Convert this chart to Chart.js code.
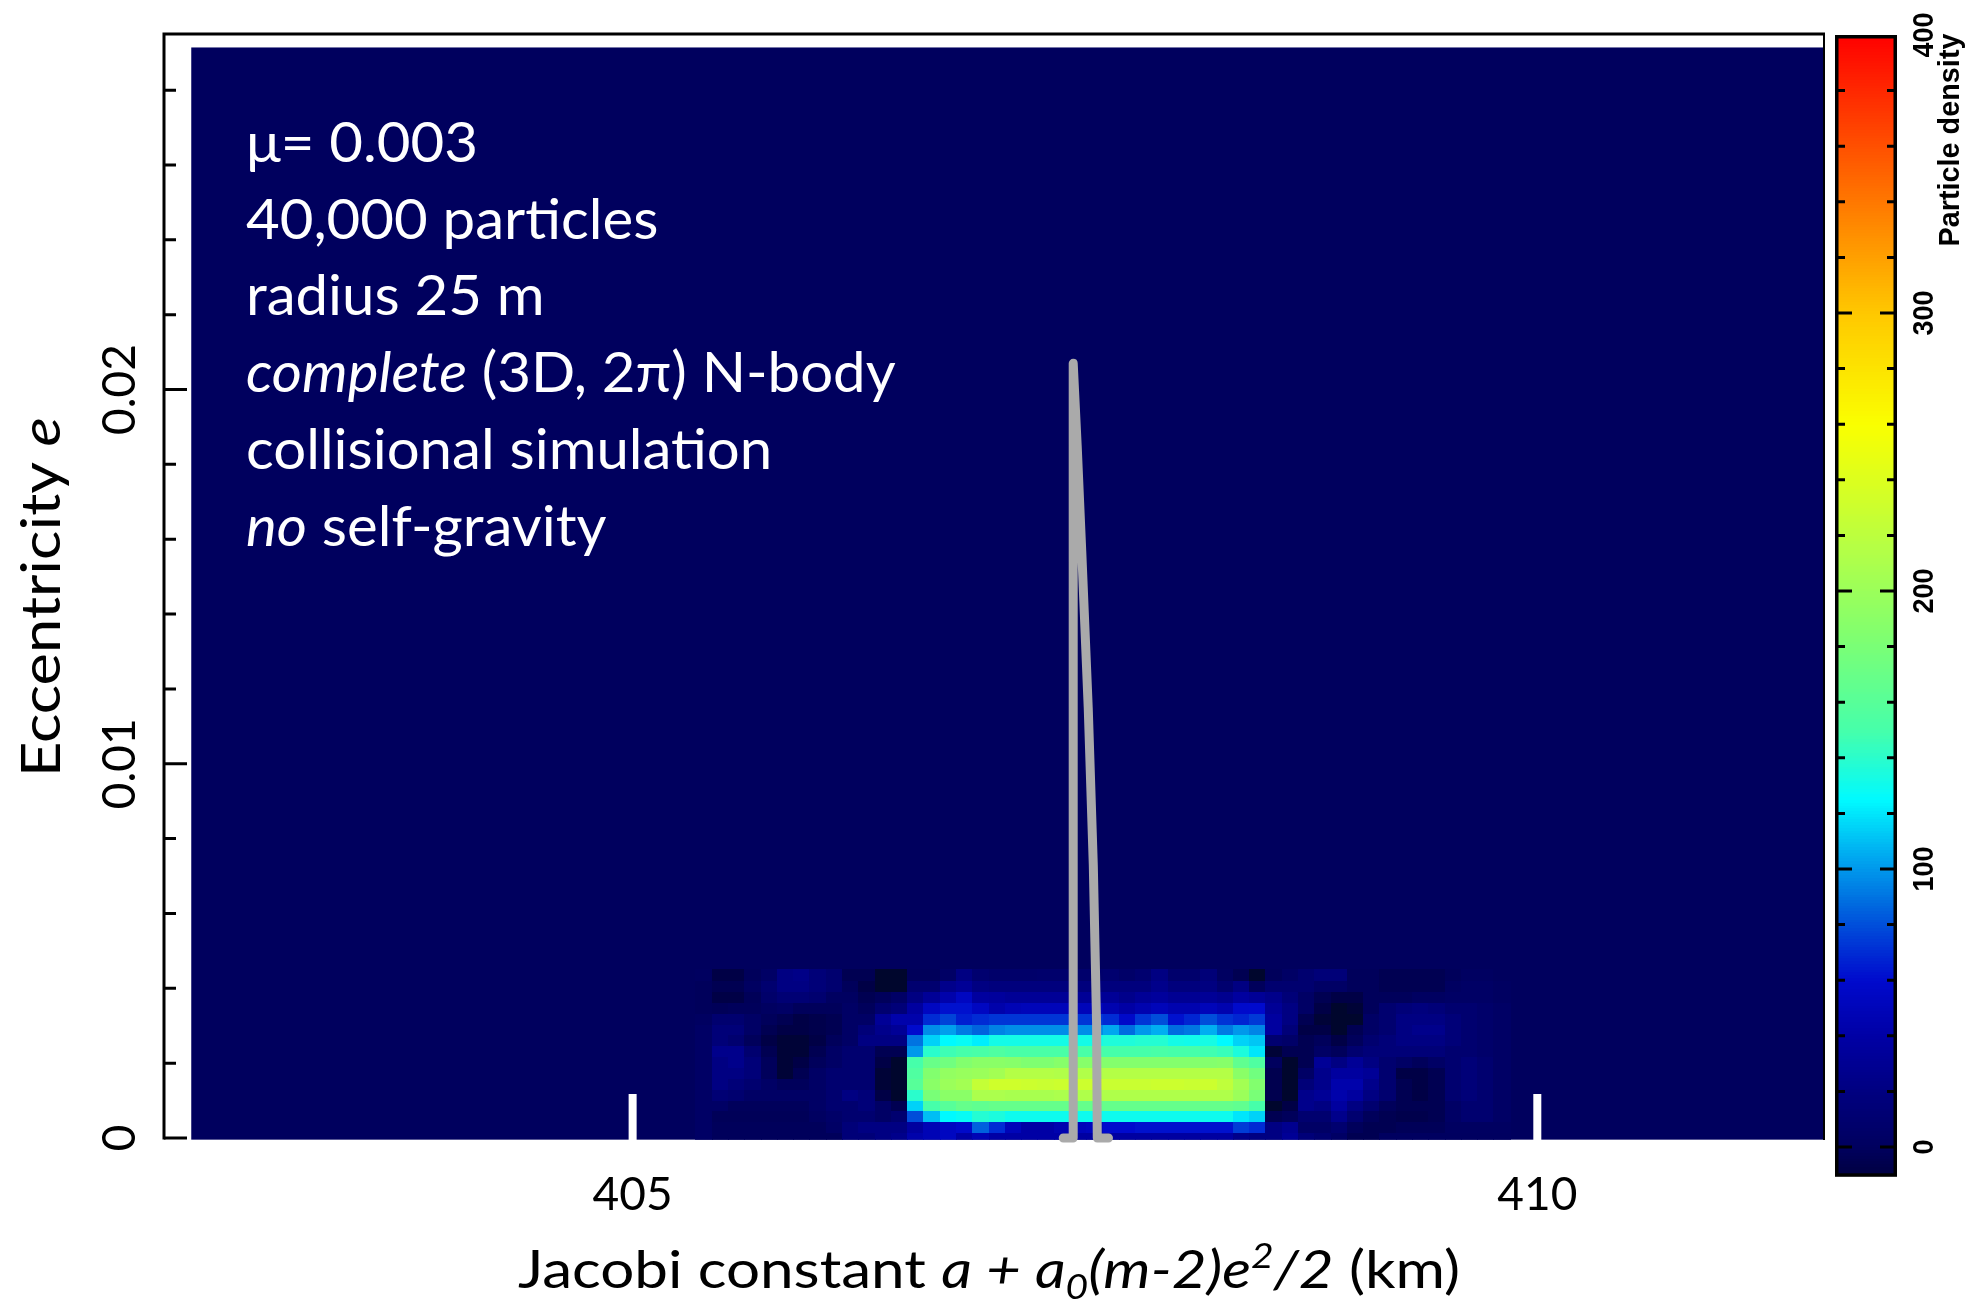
<!DOCTYPE html>
<html>
<head>
<meta charset="utf-8">
<title>Particle density: eccentricity vs Jacobi constant</title>
<script src="https://cdn.jsdelivr.net/npm/chart.js@4.4.1/dist/chart.umd.min.js"></script>
<style>
  html, body { margin: 0; padding: 0; background: #fff; }
  #wrap { width: 1982px; height: 1303px; }
</style>
</head>
<body>
<div id="wrap"><canvas id="myChart" width="1982" height="1303"></canvas></div>
<script>
// ---- histogram grid ----
const binX0 = 402.56;      // left edge of column 0 (km)
const binDX = 0.09;        // column width (km)
const binXEnd = 411.58;    // right edge of the histogram image
const binDE = 0.00029;     // rows centred on k * binDE
const binRows = 101;
const binEMin = -0.00005;  // image is cut just below e = 0
const firstCol = 31;       // the rows below start at column 31

// particle density, columns 31..80, row k is e = k * binDE
const densityRow00 = [4,-1,-1,-1,-1,-1,-1,-1,-1,15, 15,21,26,43,48,54,40,48,40,40, 40,40,40,38,38,38,38,38,38,38, 38,38,38,26,21,21,32,15,10,4, -4,-4,1,1,1,1,1,1,1,1];
const densityRow01 = [4,-1,-1,-1,-1,-1,-1,-1,4,15, 21,21,21,37,48,54,58,85,70,50, 40,40,45,50,52,60,60,62,62,62, 62,62,62,75,70,21,28,4,4,10, -1,-4,-4,-2,-2,-2,2,2,2,2];
const densityRow02 = [4,-2,-2,-2,-2,-2,-2,2,6,10, 10,4,10,80,110,125,128,138,135,130, 130,130,130,130,130,130,130,130,130,130, 130,130,130,120,115,-4,-1,10,10,26, 10,-1,-4,-6,-6,-4,4,10,10,4];
const densityRow03 = [4,4,-1,-1,-1,-1,-1,4,10,10, 15,4,-4,115,150,160,168,165,168,168, 168,168,168,168,168,168,168,168,168,168, 168,168,168,165,150,-12,-8,26,21,37, 21,10,-1,-4,-4,-4,4,10,10,4];
const densityRow04 = [4,13,10,4,4,4,4,4,10,21, 15,-8,-12,140,180,190,190,210,210,208, 208,208,210,212,212,212,212,212,212,212, 212,212,212,200,180,-5,-12,26,32,43, 37,21,10,-4,-8,-4,10,15,10,4];
const densityRow05 = [4,21,15,10,4,-1,-1,4,10,10, 10,-11,-12,160,190,200,205,225,232,232, 230,228,230,230,230,228,228,228,230,230, 228,230,222,205,185,-5,-12,15,26,43, 43,26,10,-4,-8,-4,10,15,10,4];
const densityRow06 = [4,21,21,15,-1,-11,-4,4,10,10, 10,-11,-12,155,185,195,198,200,205,215, 215,215,213,213,213,215,215,215,215,215, 215,215,215,190,175,-5,-12,4,26,37, 37,32,10,-8,-8,-4,10,15,10,4];
const densityRow07 = [4,21,26,15,-1,-11,-8,-1,4,10, 10,-8,-12,150,170,175,185,190,190,188, 183,183,188,188,188,186,186,186,186,186, 186,186,188,165,155,0,-12,-4,32,21, 32,21,10,4,-1,4,10,15,10,4];
const densityRow08 = [4,26,26,10,-4,-11,-11,-4,4,10, 10,-4,-4,100,140,147,150,152,155,152, 152,152,152,152,152,150,150,150,152,150, 150,148,145,135,120,-11,-4,-4,4,-1, 10,15,15,15,15,15,10,10,7,4];
const densityRow09 = [4,15,10,-1,-8,-11,-11,-8,-1,4, 21,21,21,90,115,125,128,122,132,132, 132,132,132,132,132,136,136,138,138,132, 131,133,125,115,112,10,6,-4,-1,-8, -1,10,15,21,21,21,15,10,7,4];
const densityRow10 = [4,15,15,4,-4,-8,-8,-6,-4,4, 15,26,32,60,97,102,92,86,94,97, 97,97,97,97,97,104,88,100,106,88, 91,106,92,100,95,37,15,-8,-8,-12, -4,4,10,21,26,26,15,10,7,4];
const densityRow11 = [2,10,10,4,-1,-4,-8,-6,-4,4, 4,32,43,43,70,77,66,70,73,73, 73,73,73,73,73,70,58,73,80,62, 68,80,72,68,74,37,21,-4,-11,-12, -12,4,10,21,21,21,15,10,7,4];
const densityRow12 = [-1,-2,-1,-1,2,4,-1,-1,-1,4, -1,10,15,37,54,62,62,54,43,48, 50,50,50,50,50,45,40,45,50,45, 45,50,45,59,60,32,21,4,-8,-12, -11,-1,10,15,18,15,10,10,7,4];
const densityRow13 = [-1,-8,-8,-2,7,13,13,10,2,2, -4,-1,4,21,32,43,54,37,35,32, 32,32,32,32,32,32,26,32,35,30, 30,32,28,37,32,26,15,4,-4,-8, -8,-1,-1,-1,2,2,4,4,4,2];
const densityRow14 = [-1,-4,-4,2,10,21,21,15,10,-1, -8,-12,-12,10,10,26,32,21,18,18, 18,18,18,18,18,18,18,18,26,18, 18,20,10,21,-1,10,10,10,4,4, -1,-1,-4,-4,-4,-4,2,4,4,2];
const densityRow15 = [1,-8,-8,-1,4,21,24,15,10,-4, -4,-12,-12,-1,-1,4,21,10,7,7, 7,8,8,8,8,10,6,10,21,8, 8,15,2,-4,-12,-1,4,10,15,15, -1,-1,-4,-4,-4,-4,-1,2,2,0];
const densityRows = [densityRow00, densityRow01, densityRow02, densityRow03, densityRow04, densityRow05,
  densityRow06, densityRow07, densityRow08, densityRow09, densityRow10, densityRow11,
  densityRow12, densityRow13, densityRow14, densityRow15];

// grey curve (Jacobi constant of the ring edge)
const curveX = [407.38, 407.435, 407.435, 407.457, 407.482, 407.518, 407.546, 407.564, 407.568, 407.63];
const curveE = [0, 0, 0.0207, 0.0185, 0.0157, 0.0115, 0.0073, 0.0031, 0, 0];

// axes
const xTickValues = [405, 410];
const xTickLabels = ['405', '410'];
const yTickValues = [0, 0.01, 0.02];
const yTickLabels = ['0', '0.01', '0.02'];
const yMinorStep = 0.002;
const cbarTickValues = [0, 100, 200, 300, 400];
const cbarTickLabels = ['0', '100', '200', '300', '400'];
const cbarMinorStep = 20;
const cbarMin = -10;
const cbarMax = 400;

const noteLines = [
  [{t: 'μ= 0.003'}],
  [{t: '40,000 particles'}],
  [{t: 'radius 25 m'}],
  [{t: 'complete', it: true}, {t: ' (3D, 2π) N-body'}],
  [{t: 'collisional simulation'}],
  [{t: 'no', it: true}, {t: ' self-gravity'}]
];
const xTitle = [{t: 'Jacobi constant '}, {t: 'a + a', it: true}, {t: '0', it: true, sub: true},
  {t: '(m-2)e', it: true}, {t: '2', it: true, sup: true}, {t: '/2', it: true}, {t: ' (km)'}];
const yTitle = [{t: 'Eccentricity '}, {t: 'e', it: true}];

// colour table of the density scale
const cmapStops = [
  [-12, [0, 6, 45]], [-10, [0, 0, 64]], [0, [0, 0, 94]], [20, [0, 0, 128]], [40, [0, 0, 165]],
  [60, [0, 10, 205]], [75, [0, 60, 215]], [90, [0, 115, 225]], [105, [0, 170, 240]],
  [125, [0, 250, 255]], [150, [70, 255, 170]], [185, [130, 255, 110]], [215, [180, 255, 70]],
  [240, [220, 255, 30]], [260, [250, 255, 0]], [300, [255, 200, 0]], [340, [255, 120, 0]], [400, [255, 0, 0]]
];

function densityColor(v) {
  const s = cmapStops;
  if (v <= s[0][0]) return `rgb(${s[0][1].join(',')})`;
  for (let i = 1; i < s.length; i++) {
    if (v <= s[i][0]) {
      const t = (v - s[i - 1][0]) / (s[i][0] - s[i - 1][0]);
      const a = s[i - 1][1], b = s[i][1];
      return `rgb(${[0, 1, 2].map(j => Math.round(a[j] + (b[j] - a[j]) * t)).join(',')})`;
    }
  }
  return `rgb(${s[s.length - 1][1].join(',')})`;
}

const textFont = 'Lato, "Open Sans", sans-serif';

// draws a run list (italic / sub / sup pieces); optional target width squeezes it
function drawRuns(ctx, runs, o) {
  const fontOf = (r) => `${r.it ? 'italic ' : ''}${o.weight || 'normal'} ${(r.sub || r.sup) ? o.size * 0.65 : o.size}px ${o.family || textFont}`;
  let total = 0;
  runs.forEach(r => { ctx.font = fontOf(r); r._w = ctx.measureText(r.t).width; total += r._w; });
  const sx = o.width ? o.width / total : 1;
  ctx.save();
  ctx.translate(o.x, o.y);
  if (o.rotate) ctx.rotate(o.rotate);
  ctx.scale(sx, 1);
  ctx.fillStyle = o.color || '#000';
  ctx.textBaseline = 'alphabetic';
  ctx.textAlign = 'left';
  let cx = o.align === 'center' ? -total / 2 : 0;
  runs.forEach(r => {
    ctx.font = fontOf(r);
    const dy = r.sub ? o.size * 0.2 : r.sup ? -o.size * 0.38 : 0;
    ctx.fillText(r.t, cx, dy);
    cx += r._w;
  });
  ctx.restore();
  return total;
}

function measureRuns(ctx, runs, size) {
  let total = 0;
  runs.forEach(r => {
    ctx.font = `${r.it ? 'italic ' : ''}normal ${size}px ${textFont}`;
    total += ctx.measureText(r.t).width;
  });
  return total;
}

const heatmapPlugin = {
  id: 'heatmap',
  beforeDatasetsDraw(chart) {
    const {ctx, scales: {x, y}} = chart;
    const left = x.getPixelForValue(binX0);
    const right = x.getPixelForValue(binXEnd);
    const top = y.getPixelForValue((binRows - 0.5) * binDE);
    const bottom = y.getPixelForValue(binEMin);
    ctx.save();
    ctx.beginPath();
    ctx.rect(left, top, right - left, bottom - top);
    ctx.clip();
    ctx.fillStyle = densityColor(0);
    ctx.fillRect(left, top, right - left, bottom - top);
    densityRows.forEach((row, k) => {
      const py0 = Math.floor(y.getPixelForValue((k + 0.5) * binDE));
      const py1 = Math.ceil(y.getPixelForValue((k - 0.5) * binDE));
      row.forEach((v, i) => {
        const c = firstCol + i;
        const px0 = Math.floor(x.getPixelForValue(binX0 + c * binDX));
        const px1 = Math.ceil(x.getPixelForValue(binX0 + (c + 1) * binDX));
        ctx.fillStyle = densityColor(v);
        ctx.fillRect(px0, py0, px1 - px0, py1 - py0);
      });
    });
    ctx.restore();
  },
  afterDatasetsDraw(chart) {
    const {ctx, scales: {x, y}, chartArea} = chart;
    // white x ticks inside the image
    ctx.save();
    ctx.fillStyle = '#fff';
    const y0 = y.getPixelForValue(0);
    xTickValues.forEach(v => {
      const px = x.getPixelForValue(v);
      ctx.fillRect(px - 4, y0 - 44, 8, 46);
    });
    ctx.restore();
    // run notes
    const size = 56;
    const targets = [220, 409, 296, 659, 537, 358];
    const measured = noteLines.reduce((s, l) => s + measureRuns(ctx, l, size), 0);
    const squeeze = targets.reduce((a, b) => a + b, 0) / measured;
    noteLines.forEach((line, i) => {
      const w = measureRuns(ctx, line, size) * squeeze;
      drawRuns(ctx, line, {x: chartArea.left + 82, y: chartArea.top + 128 + i * 76.7, size, color: '#fff', width: w});
    });
  }
};

const framePlugin = {
  id: 'frame',
  afterDraw(chart) {
    const {ctx, scales: {x, y}, chartArea: a} = chart;
    ctx.save();
    ctx.strokeStyle = '#000';
    ctx.lineCap = 'butt';
    ctx.lineWidth = 3;
    ctx.beginPath();
    ctx.moveTo(a.left, a.top - 1.5);
    ctx.lineTo(a.left, a.bottom + 1.5);
    ctx.moveTo(a.left - 1.5, a.top);
    ctx.lineTo(a.right, a.top);
    ctx.stroke();
    ctx.lineWidth = 2;
    ctx.beginPath();
    ctx.moveTo(a.right - 1, a.top);
    ctx.lineTo(a.right - 1, a.bottom + 2);
    ctx.stroke();

    // y ticks, pointing inwards
    ctx.lineWidth = 3;
    ctx.beginPath();
    for (let v = 0; v <= y.max + 1e-9; v += yMinorStep) {
      const major = yTickValues.some(t => Math.abs(t - v) < 1e-9);
      const py = y.getPixelForValue(v);
      ctx.moveTo(a.left, py);
      ctx.lineTo(a.left + (major ? 23 : 12), py);
    }
    ctx.stroke();

    yTickValues.forEach((v, i) => {
      drawRuns(ctx, [{t: yTickLabels[i]}], {x: a.left - 29, y: y.getPixelForValue(v), size: 46, rotate: -Math.PI / 2, align: 'center'});
    });
    xTickValues.forEach((v, i) => {
      drawRuns(ctx, [{t: xTickLabels[i]}], {x: x.getPixelForValue(v), y: a.bottom + 72, size: 46, align: 'center'});
    });
    drawRuns(ctx, yTitle, {x: 60, y: 597, size: 54, rotate: -Math.PI / 2, align: 'center', width: 360});
    drawRuns(ctx, xTitle, {x: 989, y: 1288, size: 53, align: 'center', width: 942});

    // colour bar
    const cbL = 1835, cbR = 1897;
    const cbY = v => 1147 - v * 2.78;
    for (let v = cbarMin; v < cbarMax; v += 1) {
      ctx.fillStyle = densityColor(v + 0.5);
      ctx.fillRect(cbL, Math.floor(cbY(v + 1)), cbR - cbL, Math.ceil(cbY(v)) - Math.floor(cbY(v + 1)));
    }
    ctx.lineWidth = 3.5;
    ctx.strokeRect(cbL + 1.75, cbY(cbarMax) + 1.75, cbR - cbL - 3.5, cbY(cbarMin) - cbY(cbarMax) - 1.5);
    ctx.lineWidth = 3;
    ctx.beginPath();
    for (let v = 0; v < cbarMax; v += cbarMinorStep) {
      const len = cbarTickValues.includes(v) ? 14 : 7;
      const py = cbY(v);
      ctx.moveTo(cbL + 3, py); ctx.lineTo(cbL + 3 + len, py);
      ctx.moveTo(cbR - 3, py); ctx.lineTo(cbR - 3 - len, py);
    }
    ctx.stroke();
    cbarTickValues.forEach((v, i) => {
      drawRuns(ctx, [{t: cbarTickLabels[i]}], {x: 1933, y: cbY(v), size: 30, weight: 'bold',
        family: '"Liberation Sans", Arial, sans-serif', rotate: -Math.PI / 2, align: 'center',
        width: 15 * cbarTickLabels[i].length});
    });
    drawRuns(ctx, [{t: 'Particle density'}], {x: 1959, y: 140, size: 29, weight: 'bold',
      family: '"Liberation Sans", Arial, sans-serif', rotate: -Math.PI / 2, align: 'center', width: 213});
    ctx.restore();
  }
};

const ctx = document.getElementById('myChart').getContext('2d');
const myChart = new Chart(ctx, {
  type: 'scatter',
  data: {
    datasets: [{
      data: curveX.map((v, i) => ({x: v, y: curveE[i]})),
      showLine: true,
      borderColor: '#aaaaaa',
      borderWidth: 9,
      borderCapStyle: 'round',
      borderJoinStyle: 'round',
      pointRadius: 0,
      tension: 0,
      clip: false
    }]
  },
  options: {
    responsive: false,
    animation: false,
    events: [],
    layout: { padding: { left: 164, top: 34, right: 157, bottom: 165 } },
    scales: {
      x: { type: 'linear', min: 402.41, max: 411.59, display: false },
      y: { type: 'linear', min: 0, max: 0.0295, display: false }
    },
    plugins: {
      legend: { display: false },
      tooltip: { enabled: false }
    }
  },
  plugins: [heatmapPlugin, framePlugin]
});
</script>
</body>
</html>
